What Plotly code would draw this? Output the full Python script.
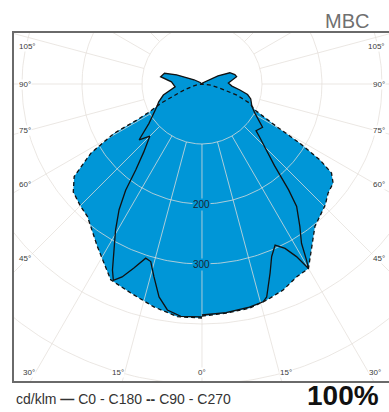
import numpy as np
import plotly.graph_objects as go

# ---------------- data (cd/klm) ----------------
# C0 (solid, right half-plane): gamma angle (deg from nadir) and intensity
gamma_c0 = [0, 6, 12, 15.7, 16.9, 19.8, 22, 24.4, 26.8, 28.7, 30, 30.7, 32, 34.5, 37.7, 39.3,
            41.6, 44.4, 47.4, 49.2, 54.5, 61, 66, 73, 77, 81, 86, 92, 102, 106, 112, 117, 125, 150, 180]
cd_c0 = [385, 383, 380, 377, 371, 335, 310, 295, 307, 328, 355, 341, 313, 288, 258, 228,
         182, 154, 130, 119, 124, 101, 91, 85, 78, 64, 50, 44, 59, 57, 50, 30, 8, 2, 0]

# C180 (solid, left half-plane)
gamma_c180 = [0, 5.2, 8.7, 11.4, 14, 16.1, 17.9, 20.3, 22.5, 24.3, 25.7, 27.9, 30.6, 33.4, 35.7,
              37.6, 40.6, 45, 48.4, 53.4, 57, 63.4, 67.6, 74, 84, 94, 100, 106, 110, 118, 130, 180]
cd_c180 = [388, 389, 381, 362, 331, 308, 305, 327, 348, 359, 344, 313, 283, 251, 218,
           181, 149, 123, 140, 110, 100, 84, 78, 67, 45, 51, 70, 65, 45, 15, 4, 0]

# C90 (dashed, right half-plane)
gamma_c90 = [0, 6, 12, 16.7, 21.5, 26.2, 30, 32, 38.4, 45.5, 49.1, 52.9, 55.5, 57.2, 58.8,
             60.3, 63.9, 68, 72.4, 76.6, 82, 90, 180]
cd_c90 = [387, 384, 382, 376, 369, 358, 355, 340, 303, 288, 278, 274, 262, 234, 191,
          143, 98, 86, 61, 31, 15, 0, 0]

# C270 (dashed, left half-plane)
gamma_c270 = [0, 6, 12.2, 18.8, 25, 32.8, 40.8, 45, 50, 54.1, 58.1, 60.7, 61, 62, 65, 67, 72, 80, 90, 180]
cd_c270 = [390, 390, 380, 368, 360, 322, 292, 287, 280, 263, 218, 168, 125, 100, 75, 50, 30, 10, 0, 0]

grid_radii = [100, 200, 300, 400, 500, 600]
grid_angles = list(range(-180, 181, 15))
radial_labels = [200, 300]
side_label_angles = [105, 90, 75, 60, 45]
bottom_label_angles = [30, 15, 0, 15, 30]
bottom_label_sides = [-1, -1, 0, 1, 1]

title_text = "MBC"
legend_text = "cd/klm <b>\u2014</b> C0 - C180 <b>--</b> C90 - C270"
percent_text = "100%"

BLUE = "#0096D7"
GRID = "rgba(228,223,217,0.75)"

# ---------------- helpers ----------------
def to_xy(gamma, cd, side):
    g = np.radians(np.asarray(gamma, float))
    r = np.asarray(cd, float)
    return side * r * np.sin(g), -r * np.cos(g)


def closed_curve(g_right, c_right, g_left, c_left):
    xr, yr = to_xy(g_right, c_right, 1)
    xl, yl = to_xy(g_left, c_left, -1)
    x = np.concatenate([xr, xl[::-1]])
    y = np.concatenate([yr, yl[::-1]])
    return x, y


xs, ys = closed_curve(gamma_c0, cd_c0, gamma_c180, cd_c180)
xd, yd = closed_curve(gamma_c90, cd_c90, gamma_c270, cd_c270)

fig = go.Figure()

# fills (union of both planes)
for x, y in [(xd, yd), (xs, ys)]:
    fig.add_trace(go.Scatter(x=x, y=y, mode="lines", line=dict(width=0, color=BLUE),
                             fill="toself", fillcolor=BLUE, hoverinfo="skip", showlegend=False))

# grid circles
t = np.linspace(0, 2 * np.pi, 361)
gx, gy = [], []
for r in grid_radii:
    gx += list(r * np.sin(t)) + [None]
    gy += list(-r * np.cos(t)) + [None]
# radial lines from the first circle outwards
for a in grid_angles:
    ar = np.radians(a)
    gx += [grid_radii[0] * np.sin(ar), 900 * np.sin(ar), None]
    gy += [-grid_radii[0] * np.cos(ar), -900 * np.cos(ar), None]
fig.add_trace(go.Scatter(x=gx, y=gy, mode="lines", line=dict(width=1, color=GRID),
                         hoverinfo="skip", showlegend=False))

# curves
fig.add_trace(go.Scatter(x=xd, y=yd, mode="lines",
                         line=dict(color="#111111", width=1.3, dash="4px,3px"),
                         hoverinfo="skip", showlegend=False))
fig.add_trace(go.Scatter(x=xs, y=ys, mode="lines",
                         line=dict(color="#111111", width=1.3),
                         hoverinfo="skip", showlegend=False))

annotations = []
# radial value labels
for v in radial_labels:
    annotations.append(dict(x=0, y=-v, xref="x", yref="y", text=str(v), showarrow=False,
                            font=dict(size=10, color="#1b2733", family="Liberation Sans, sans-serif"),
                            bgcolor=BLUE, borderpad=0))

lab_font = dict(size=8, color="#3a3a3a", family="Liberation Sans, sans-serif")
# side labels
for a in side_label_angles:
    yv = -291 / np.tan(np.radians(a))
    yv = min(yv, 63)
    for side in (-1, 1):
        annotations.append(dict(x=side * 307, y=yv, xref="x", yref="y", text=f"{a}°",
                                showarrow=False, xanchor="left" if side < 0 else "right",
                                font=lab_font, bgcolor="white", borderpad=0))
# bottom labels
for a, side in zip(bottom_label_angles, bottom_label_sides):
    xv = side * 480 * np.tan(np.radians(a))
    annotations.append(dict(x=xv, y=-480, xref="x", yref="y", text=f"{a}°", showarrow=False,
                            xanchor={-1: "right", 0: "center", 1: "left"}[side],
                            font=lab_font, bgcolor="white", borderpad=0))

annotations.append(dict(x=0.952, y=1.034, xref="paper", yref="paper", text=title_text,
                        showarrow=False, xanchor="right", yanchor="middle",
                        font=dict(size=20, color="#707070", family="Liberation Sans, Arial, sans-serif")))
annotations.append(dict(x=0.0, y=-0.052, xref="paper", yref="paper", text=legend_text,
                        showarrow=False, xanchor="left", yanchor="middle",
                        font=dict(size=14, color="#333333", family="Liberation Sans, sans-serif")))
annotations.append(dict(x=0.978, y=-0.043, xref="paper", yref="paper", text=f"<b>{percent_text}</b>",
                        showarrow=False, xanchor="right", yanchor="middle",
                        font=dict(size=28, color="#111111", family="Liberation Sans, Arial, sans-serif")))

fig.update_layout(
    width=389, height=412,
    margin=dict(l=14, r=0, t=33, b=31),
    paper_bgcolor="white", plot_bgcolor="white",
    annotations=annotations,
    xaxis=dict(range=[-313.3, 311.7], showgrid=False, zeroline=False, showticklabels=False,
               ticks="", showline=True, mirror=True, linecolor="#6a6a6a", linewidth=1.5, fixedrange=True),
    yaxis=dict(range=[-495, 85], showgrid=False, zeroline=False, showticklabels=False,
               ticks="", showline=True, mirror=False, linecolor="#6a6a6a", linewidth=1.5, fixedrange=True),
)

fig.write_html("out.html", config={"displayModeBar": False},
               post_script="document.body.style.margin='0';document.body.style.overflow='hidden';")
